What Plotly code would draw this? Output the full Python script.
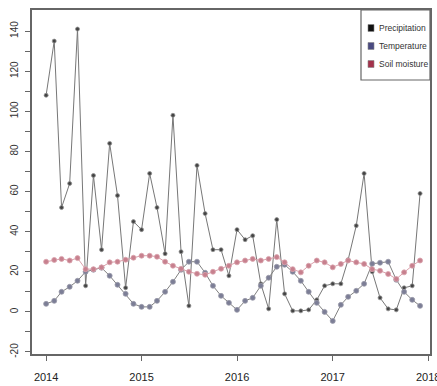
import pandas as pd
import plotly.graph_objects as go

# Monthly series, January 2014 - December 2017
start_month = "2014-01-01"

precipitation = [108, 135, 52, 64, 141, 13, 68, 31, 84, 58, 12, 45,
                 41, 69, 52, 29, 98, 30, 3, 73, 49, 31, 31, 18,
                 41, 36, 38, 14, 1.5, 46, 9, 0.5, 0.5, 1, 6, 13,
                 14, 14, 26, 43, 69, 20, 7, 1.5, 1, 12, 13, 59]

temperature = [4, 5.5, 10, 12.5, 15.5, 20, 21, 22, 18, 13.5, 9, 4,
               2.5, 2.5, 5.5, 10, 15, 21, 25, 25, 19.5, 13, 8, 4.5,
               1, 5.5, 7, 13, 17, 22.5, 23.5, 20, 15.5, 10, 4.5, 0,
               -4.5, 3.5, 7.5, 10.5, 14, 24, 24.5, 25, 16, 10, 6, 3]

soil_moisture = [25, 25.9, 26.4, 25.6, 26.8, 21.3, 21.3, 22.2, 24.7, 25, 26, 27,
                 28, 28, 27.5, 25, 23, 21.5, 20, 19, 18.5, 20, 21.5, 23,
                 24.7, 25.6, 26.4, 25.6, 26.4, 27.3, 24.7, 21.3, 19.7, 23, 25.6, 24.7,
                 22.2, 23.9, 25.6, 24.7, 23.9, 21.3, 20.5, 18.9, 16.4, 19.7, 23, 25.6]

series_names = ["Precipitation", "Temperature", "Soil moisture"]
year_ticks = ["2014", "2015", "2016", "2017", "2018"]
y_ticks = list(range(-20, 150, 10))

months = pd.date_range(start_month, periods=len(precipitation), freq="MS")

W, H = 437, 386
ML, MR, MT, MB = 32, 7, 10, 32
PW, PH = W - ML - MR, H - MT - MB


def px_x(x):
    return (x - ML) / PW


def px_y(y):
    return 1 - (y - MT) / PH


fig = go.Figure()

fig.add_trace(go.Scatter(
    x=months, y=precipitation, mode="lines+markers", name=series_names[0],
    line=dict(color="#777777", width=1),
    marker=dict(size=4, color="#444444", line=dict(color="#909090", width=0.8)),
    showlegend=False))

fig.add_trace(go.Scatter(
    x=months, y=temperature, mode="lines+markers", name=series_names[1],
    line=dict(color="#808080", width=1),
    marker=dict(size=5, color="#7c7e96", line=dict(color="#9a9aaa", width=0.8)),
    showlegend=False))

fig.add_trace(go.Scatter(
    x=months, y=soil_moisture, mode="lines+markers", name=series_names[2],
    line=dict(color="#dba0ab", width=1),
    marker=dict(size=5, color="#c7808e", line=dict(color="#d9a3ad", width=0.8)),
    showlegend=False))

# Boxed legend in the top-right corner
legend_colors = ["#111111", "#4a4a80", "#a3314b"]
legend_rows = [28, 46, 64]
shapes = [dict(type="rect", xref="paper", yref="paper",
               x0=px_x(361), x1=px_x(430), y0=px_y(80), y1=px_y(MT),
               line=dict(color="#666666", width=1.2), fillcolor="white")]
annotations = []
for name, col, yy in zip(series_names, legend_colors, legend_rows):
    shapes.append(dict(type="rect", xref="paper", yref="paper",
                       x0=px_x(368), x1=px_x(374), y0=px_y(yy + 3.5), y1=px_y(yy - 3.5),
                       line=dict(color="#888888", width=0.6), fillcolor=col))
    annotations.append(dict(xref="paper", yref="paper", x=px_x(377), y=px_y(yy),
                            text=name, showarrow=False, xanchor="left", yanchor="middle",
                            font=dict(family="Liberation Sans, Arial, sans-serif",
                                      size=8.5, color="#333333")))

axis_common = dict(showline=True, mirror=True, linecolor="#666666", linewidth=1.5,
                   ticks="outside", ticklen=5, tickcolor="#666666", tickwidth=1,
                   showgrid=False, zeroline=False, automargin=False,
                   ticklabeloverflow="allow")

fig.update_layout(
    width=W, height=H,
    margin=dict(l=ML, r=MR, t=MT, b=MB),
    paper_bgcolor="white", plot_bgcolor="white",
    shapes=shapes, annotations=annotations,
    xaxis=dict(type="date", range=["2013-11-08", "2018-01-08"],
               tickvals=[f"{y}-01-01" for y in year_ticks], ticktext=year_ticks,
               tickfont=dict(family="Liberation Sans, Arial, sans-serif",
                             size=11, color="#222222"),
               ticklabelstandoff=7, **axis_common),
    yaxis=dict(range=[-21, 150.5], tickvals=y_ticks,
               ticktext=[str(v) if v % 20 == 0 else "" for v in y_ticks],
               tickangle=-90,
               tickfont=dict(family="Liberation Sans, Arial, sans-serif", size=10, color="#333333"),
               ticklabelstandoff=3, **axis_common),
)

fig.write_html("out.html")
